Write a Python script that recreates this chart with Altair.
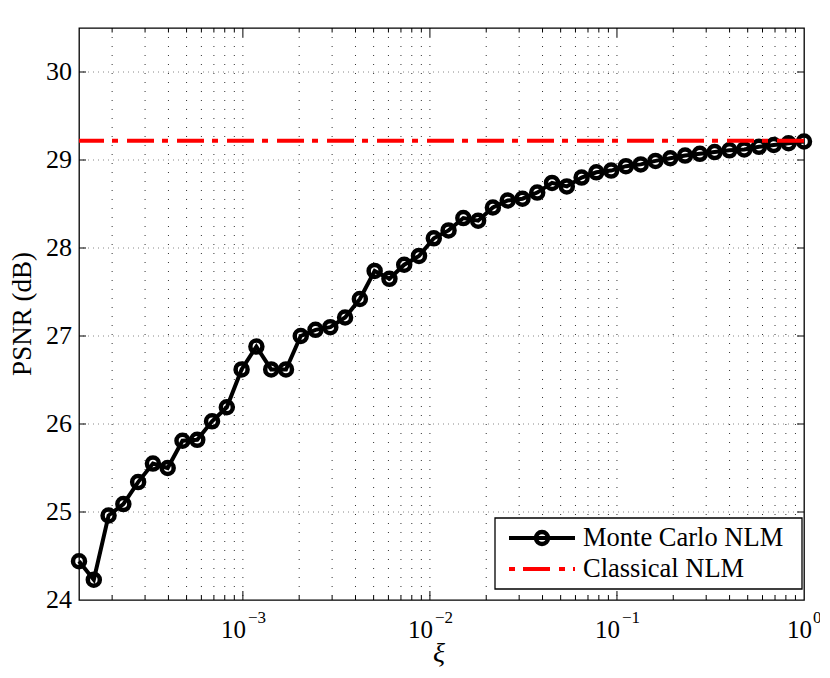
import altair as alt
import pandas as pd

# ---- data ----
xi = [1.330e-4, 1.596e-4, 1.914e-4, 2.296e-4, 2.754e-4, 3.304e-4, 3.963e-4, 4.754e-4,
      5.703e-4, 6.841e-4, 8.206e-4, 9.844e-4, 1.181e-3, 1.417e-3, 1.700e-3, 2.039e-3,
      2.446e-3, 2.934e-3, 3.519e-3, 4.222e-3, 5.064e-3, 6.075e-3, 7.287e-3, 8.742e-3,
      1.049e-2, 1.258e-2, 1.509e-2, 1.810e-2, 2.171e-2, 2.605e-2, 3.125e-2, 3.748e-2,
      4.496e-2, 5.394e-2, 6.470e-2, 7.762e-2, 9.311e-2, 0.1117, 0.1340, 0.1607,
      0.1928, 0.2313, 0.2775, 0.3329, 0.3993, 0.4790, 0.5746, 0.6893, 0.8268, 1.0]
psnr_mc = [24.44, 24.23, 24.96, 25.09, 25.34, 25.55, 25.50, 25.81, 25.82, 26.03,
           26.19, 26.62, 26.88, 26.62, 26.62, 27.00, 27.07, 27.10, 27.21, 27.42,
           27.74, 27.65, 27.81, 27.91, 28.11, 28.20, 28.34, 28.31, 28.46, 28.54,
           28.56, 28.63, 28.74, 28.70, 28.80, 28.86, 28.88, 28.93, 28.95, 28.99,
           29.02, 29.05, 29.07, 29.09, 29.11, 29.12, 29.15, 29.17, 29.19, 29.21]
psnr_classical = [29.22]

series_names = ["Monte Carlo NLM", "Classical NLM"]
decades = [1e-3, 1e-2, 1e-1, 1.0]
decade_exponents = ["\u22123", "\u22122", "\u22121", "0"]
minor_ticks = [2e-4, 3e-4, 4e-4, 5e-4, 6e-4, 7e-4, 8e-4, 9e-4,
               2e-3, 3e-3, 4e-3, 5e-3, 6e-3, 7e-3, 8e-3, 9e-3,
               2e-2, 3e-2, 4e-2, 5e-2, 6e-2, 7e-2, 8e-2, 9e-2,
               2e-1, 3e-1, 4e-1, 5e-1, 6e-1, 7e-1, 8e-1, 9e-1]
y_ticks = [24, 25, 26, 27, 28, 29, 30]
y_title = "PSNR (dB)"
x_title_text = "\u03be"

# ---- tables ----
W, H = 725, 572
FONT = "Liberation Serif"
mc = pd.DataFrame({"xi": xi, "psnr": psnr_mc})
cl = pd.DataFrame({"psnr": psnr_classical})
major_df = pd.DataFrame({"t": decades[:-1]})
minor_df = pd.DataFrame({"t": minor_ticks})
grid_df = pd.DataFrame({"t": sorted(minor_ticks + decades[:-1])})
lab_df = pd.DataFrame({"t": decades, "exp": decade_exponents})
ylab_df = pd.DataFrame({"y": y_ticks, "lab": [str(v) for v in y_ticks]})
yt_df = pd.DataFrame({"y": y_ticks[1:]})
one = pd.DataFrame({"a": [0]})

xscale = alt.Scale(type="log", domain=[1.33e-4, 1.0], nice=False)
yscale = alt.Scale(domain=[24, 30.5], nice=False, zero=False)

def X(f):
    return alt.X(f, scale=xscale, axis=None)

def Y(f):
    return alt.Y(f, scale=yscale, axis=None)

# grid lines
vgrid = alt.Chart(grid_df).mark_rule(color="#333", strokeWidth=1, strokeDash=[1, 8]).encode(
    x=X("t:Q"))
hgrid = alt.Chart(yt_df).mark_rule(color="#888", strokeWidth=1, strokeDash=[1, 4]).encode(
    y=Y("y:Q"))

main_line = alt.Chart(mc).mark_line(color="black", strokeWidth=4).encode(
    x=X("xi:Q"), y=Y("psnr:Q"))
main_pts = alt.Chart(mc).mark_point(shape="circle", filled=False, color="black",
                                    strokeWidth=4.5, size=144, opacity=1).encode(
    x=X("xi:Q"), y=Y("psnr:Q"))
classical = alt.Chart(cl).mark_rule(color="#ff0000", strokeWidth=4,
                                    strokeDash=[27, 9, 6, 8]).encode(y=Y("psnr:Q"))

def xtick(df, y0, y1):
    return alt.Chart(df).mark_rule(color="black", strokeWidth=1).encode(
        x=X("t:Q"), y=alt.value(y0), y2=alt.value(y1))

ticks = [
    xtick(major_df, H, H - 9), xtick(major_df, 0, 9),
    xtick(minor_df, H, H - 4.5), xtick(minor_df, 0, 4.5),
    alt.Chart(yt_df).mark_rule(color="black", strokeWidth=1).encode(
        y=Y("y:Q"), x=alt.value(0), x2=alt.value(7)),
    alt.Chart(yt_df).mark_rule(color="black", strokeWidth=1).encode(
        y=Y("y:Q"), x=alt.value(W), x2=alt.value(W - 7)),
]

# y tick labels and title
ylabels = alt.Chart(ylab_df).mark_text(
    font=FONT, fontSize=26, align="right", baseline="middle", color="black"
).encode(y=Y("y:Q"), x=alt.value(-7), text="lab:N")
ytitle = alt.Chart(one).mark_text(
    font=FONT, fontSize=27, align="center", baseline="middle", angle=270,
    color="black", text=y_title).encode(x=alt.value(-56), y=alt.value(H / 2))

# x tick labels (10 with superscript exponent)
lab_base_neg = alt.Chart(lab_df).transform_filter("datum.t < 1").mark_text(
    font=FONT, fontSize=25, align="right", baseline="alphabetic", dx=3, color="black"
).encode(x=X("t:Q"), y=alt.value(H + 38), text=alt.value("10"))
lab_exp_neg = alt.Chart(lab_df).transform_filter("datum.t < 1").mark_text(
    font=FONT, fontSize=17, align="left", baseline="alphabetic", dx=5, color="black"
).encode(x=X("t:Q"), y=alt.value(H + 23), text="exp:N")
lab_base_0 = alt.Chart(lab_df).transform_filter("datum.t >= 1").mark_text(
    font=FONT, fontSize=25, align="right", baseline="alphabetic", dx=8, color="black"
).encode(x=X("t:Q"), y=alt.value(H + 38), text=alt.value("10"))
lab_exp_0 = alt.Chart(lab_df).transform_filter("datum.t >= 1").mark_text(
    font=FONT, fontSize=17, align="left", baseline="alphabetic", dx=9, color="black"
).encode(x=X("t:Q"), y=alt.value(H + 23), text="exp:N")

x_title = alt.Chart(one).mark_text(
    font=FONT, fontSize=28, fontStyle="italic", align="center", baseline="alphabetic",
    color="black", text=x_title_text).encode(x=alt.value(360), y=alt.value(H + 62))

# ---- legend ----
leg_box = alt.Chart(one).mark_rect(fill="white", stroke="black", strokeWidth=1.3).encode(
    x=alt.value(416), x2=alt.value(723), y=alt.value(490), y2=alt.value(561))
leg_mc_line = alt.Chart(one).mark_rule(color="black", strokeWidth=4).encode(
    x=alt.value(430), x2=alt.value(496), y=alt.value(510))
leg_mc_pt = alt.Chart(one).mark_point(shape="circle", filled=False, color="black",
                                      strokeWidth=4.5, size=144, opacity=1).encode(
    x=alt.value(463), y=alt.value(510))
leg_cl_line = alt.Chart(one).mark_rule(color="#ff0000", strokeWidth=4,
                                       strokeDash=[6, 8, 27, 9]).encode(
    x=alt.value(430), x2=alt.value(496), y=alt.value(541))
leg_names = pd.DataFrame({"name": series_names})
leg_text_mc = alt.Chart(leg_names).transform_filter(
    alt.datum.name == series_names[0]).mark_text(
    font=FONT, fontSize=26.5, align="left", baseline="middle", color="black").encode(
    x=alt.value(504), y=alt.value(510), text="name:N")
leg_text_cl = alt.Chart(leg_names).transform_filter(
    alt.datum.name == series_names[1]).mark_text(
    font=FONT, fontSize=26.5, align="left", baseline="middle", color="black").encode(
    x=alt.value(504), y=alt.value(541), text="name:N")

chart = alt.layer(
    vgrid, hgrid, main_line, main_pts, classical, *ticks,
    ylabels, ytitle,
    lab_base_neg, lab_exp_neg, lab_base_0, lab_exp_0, x_title,
    leg_box, leg_mc_line, leg_mc_pt, leg_cl_line, leg_text_mc, leg_text_cl,
).properties(
    width=W, height=H,
    autosize=alt.AutoSizeParams(type="none"),
    padding={"left": 71, "top": 20, "right": 16, "bottom": 70},
    background="white",
).configure_view(stroke="black", strokeWidth=1.3)

chart.save("out.html", embed_options={"renderer": "svg", "actions": False})
